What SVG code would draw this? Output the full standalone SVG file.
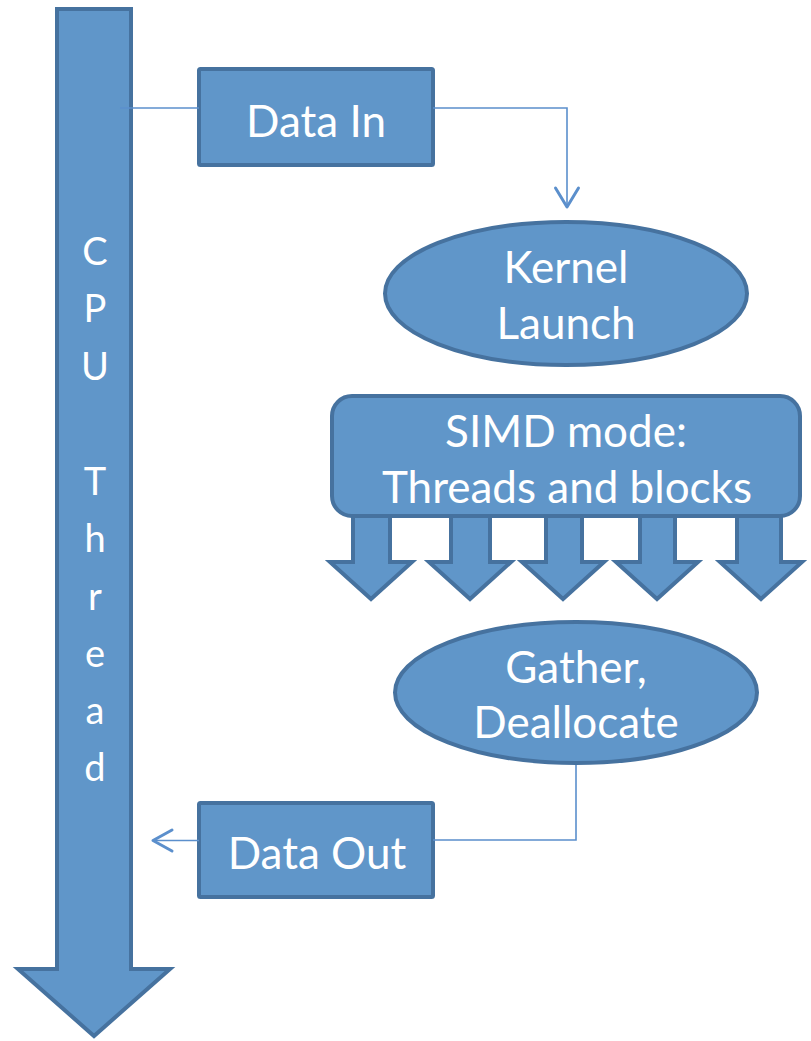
<svg xmlns="http://www.w3.org/2000/svg" width="811" height="1041" viewBox="0 0 811 1041">
  <style>
    .shape { fill: #6096c9; stroke: #46729f; stroke-width: 4; stroke-linejoin: miter; }
    .label { fill: #ffffff; font-family: Lato, "Open Sans", sans-serif; font-size: 44px; text-anchor: middle; }
    .vlabel { fill: #ffffff; font-family: Lato, "Open Sans", sans-serif; font-size: 38px; text-anchor: middle; }
    .wire { fill: none; stroke: #5b8fcc; stroke-width: 1.6; }
    .head { fill: none; stroke: #5b8fcc; stroke-width: 3; stroke-linecap: round; stroke-linejoin: round; }
  </style>

  <!-- CPU thread timeline -->
  <g id="cpu-thread">
    <path class="shape" d="M57,9 H131 V969 H170 L94,1036 L18,969 H57 Z"/>
    <text class="vlabel" x="95" y="265">C</text>
    <text class="vlabel" x="95" y="322">P</text>
    <text class="vlabel" x="95" y="380">U</text>
    <text class="vlabel" x="95" y="495">T</text>
    <text class="vlabel" x="95" y="552">h</text>
    <text class="vlabel" x="95" y="610">r</text>
    <text class="vlabel" x="95" y="667">e</text>
    <text class="vlabel" x="95" y="724">a</text>
    <text class="vlabel" x="95" y="781">d</text>
  </g>

  <!-- parallel work fan-out arrows (behind the SIMD box) -->
  <g id="simd-arrows">
    <path class="shape" d="M353,505 H390 V562 H412 L371,599 L330,562 H353 Z"/>
    <path class="shape" d="M451,505 H490 V562 H511 L470,599 L429,562 H451 Z"/>
    <path class="shape" d="M546,505 H582 V562 H604 L563,599 L522,562 H546 Z"/>
    <path class="shape" d="M640,505 H675 V562 H698 L657,599 L616,562 H640 Z"/>
    <path class="shape" d="M737,505 H781 V562 H802 L761,599 L720,562 H737 Z"/>
  </g>

  <g id="data-in">
    <rect class="shape" x="199" y="69" width="234" height="96" rx="1.5"/>
    <text class="label" x="316" y="137">Data In</text>
  </g>

  <g id="kernel-launch">
    <ellipse class="shape" cx="566" cy="293.5" rx="181" ry="71.5"/>
    <text class="label" x="566" y="283">Kernel</text>
    <text class="label" x="566" y="339">Launch</text>
  </g>

  <g id="simd-mode">
    <rect class="shape" x="332" y="396" width="468" height="120" rx="20"/>
    <text class="label" x="566" y="447">SIMD mode:</text>
    <text class="label" x="567" y="503">Threads and blocks</text>
  </g>

  <g id="gather">
    <ellipse class="shape" cx="576" cy="692.5" rx="181" ry="70.5"/>
    <text class="label" x="576" y="683">Gather,</text>
    <text class="label" x="576" y="738">Deallocate</text>
  </g>

  <g id="data-out">
    <rect class="shape" x="199" y="803" width="234" height="94" rx="1.5"/>
    <text class="label" x="317" y="869">Data Out</text>
  </g>

  <g id="connectors">
    <path class="wire" d="M120,108 H199"/>
    <path class="wire" d="M433,108 H567 V206"/>
    <polyline class="head" points="555.5,188 567,207 578.5,188"/>
    <path class="wire" d="M576,765 V840 H433"/>
    <path class="wire" d="M199,840.5 H154"/>
    <polyline class="head" points="172,830 153,840.5 172,851"/>
  </g>
</svg>
